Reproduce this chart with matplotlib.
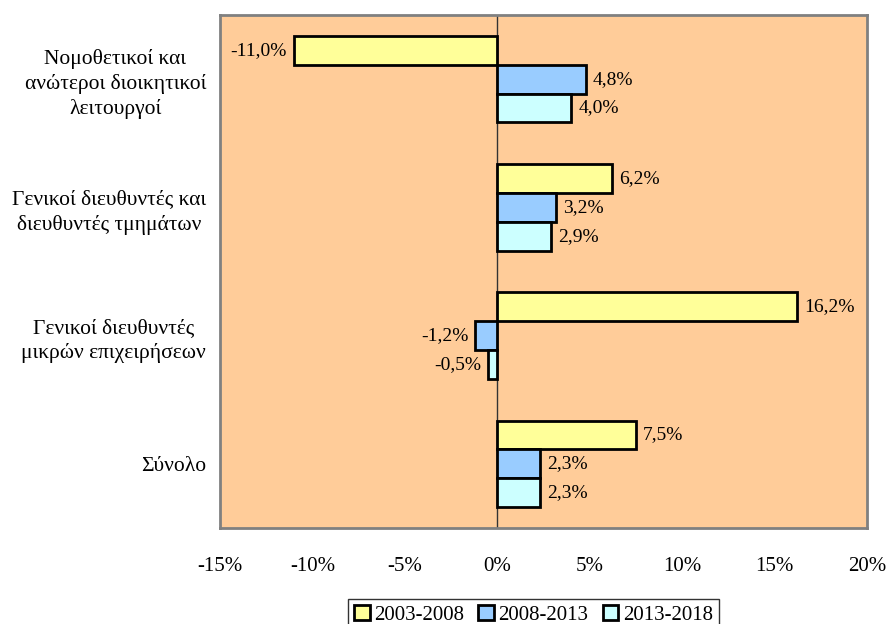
import matplotlib.pyplot as plt
import numpy as np
from matplotlib.patches import Patch

plt.rcParams['font.family'] = ['Liberation Serif', 'DejaVu Serif']

categories = [
    "Νομοθετικοί και\nανώτεροι διοικητικοί\nλειτουργοί",
    "Γενικοί διευθυντές και\nδιευθυντές τμημάτων",
    "Γενικοί διευθυντές\nμικρών επιχειρήσεων",
    "Σύνολο",
]
periods = ["2003-2008", "2008-2013", "2013-2018"]
v_2003_2008 = [-11.0, 6.2, 16.2, 7.5]
v_2008_2013 = [4.8, 3.2, -1.2, 2.3]
v_2013_2018 = [4.0, 2.9, -0.5, 2.3]
series = [v_2003_2008, v_2008_2013, v_2013_2018]
colors = ["#FFFF99", "#99CCFF", "#CCFFFF"]

fig = plt.figure(figsize=(8.86, 6.24), dpi=100)
ax = fig.add_axes([0.2483, 0.1538, 0.7303, 0.8222])
ax.set_facecolor("#FFCC99")

y = np.arange(len(categories))
h = 0.225
for i, (vals, c) in enumerate(zip(series, colors)):
    pos = y + (i - 1) * h
    ax.barh(pos, vals, height=h, color=c, edgecolor="black", linewidth=2, zorder=3)
    for p, v in zip(pos, vals):
        txt = f"{v:.1f}%".replace(".", ",")
        if v >= 0:
            ax.annotate(txt, (v, p), xytext=(5, 0), textcoords="offset points",
                        ha="left", va="center", fontsize=14)
        else:
            ax.annotate(txt, (v, p), xytext=(-5, 0), textcoords="offset points",
                        ha="right", va="center", fontsize=14)

ax.axvline(0, color="#333333", linewidth=1, zorder=2)
ax.set_xlim(-15, 20)
ax.set_ylim(3.5, -0.5)
ax.set_xticks(np.arange(-15, 21, 5))
ax.set_xticklabels([f"{t}%" for t in range(-15, 21, 5)], fontsize=15)
ax.tick_params(axis="x", length=0, pad=21)
ax.set_yticks(y)
ax.set_yticklabels(categories, fontsize=15.5, multialignment="center", linespacing=1.35)
ax.tick_params(axis="y", length=0, pad=10)
for s in ax.spines.values():
    s.set_color("#808080")
    s.set_linewidth(2)

handles = [Patch(facecolor=c, edgecolor="black", linewidth=2) for c in colors]
leg = fig.legend(handles, periods, loc="lower center", bbox_to_anchor=(0.602, -0.028),
                 ncol=3, fontsize=15, frameon=True, fancybox=False,
                 handlelength=0.75, handleheight=0.75, handletextpad=0.2,
                 columnspacing=0.7, borderpad=0.3)
leg.get_frame().set_edgecolor("black")
leg.get_frame().set_linewidth(1)

fig.savefig("out.png", dpi=100)
